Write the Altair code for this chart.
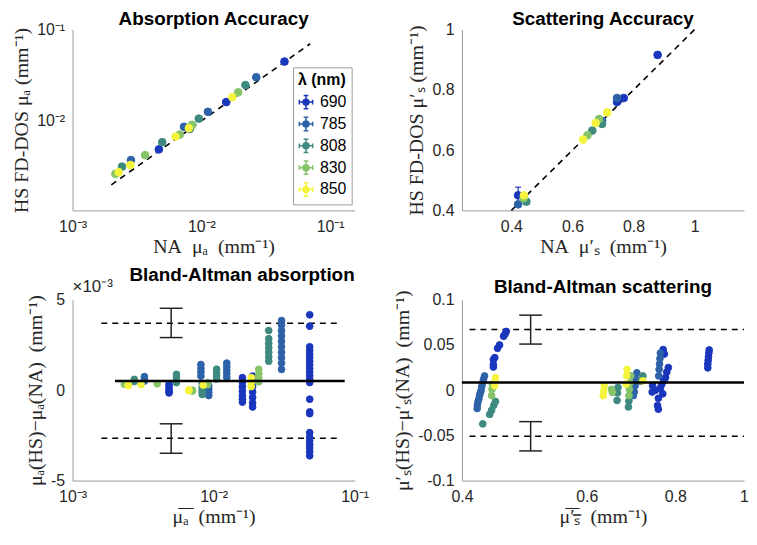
import altair as alt
import pandas as pd

# ---------------- data ----------------
NM = [690, 785, 808, 830, 850]
COLORS = ["#1a36bd", "#2d62a8", "#3f8a80", "#86c46a", "#f4f43e"]

# Absorption accuracy (mm^-1): NA reference vs HS FD-DOS
acc_nm = [690, 690, 690,
          785, 785, 785, 785,
          808, 808, 808, 808, 808,
          830, 830, 830, 830, 830,
          850, 850, 850, 850, 850]
acc_na = [0.0442, 0.0156, 0.00468,
          0.0267, 0.01125, 0.00733, 0.00284,
          0.0220, 0.00955, 0.00813, 0.00497, 0.00242,
          0.0193, 0.00848, 0.00678, 0.00366, 0.00215,
          0.0174, 0.0080, 0.00631, 0.00281, 0.00228]
acc_hs = [0.0447, 0.0161, 0.00489,
          0.0301, 0.0126, 0.00863, 0.00373,
          0.0247, 0.0106, 0.00819, 0.00586, 0.00316,
          0.0206, 0.00906, 0.00708, 0.00422, 0.00264,
          0.0182, 0.00834, 0.00674, 0.0033, 0.00275]
ident_abs = [0.002, 0.07]

# Scattering accuracy (mm^-1)
sca_nm = [690, 690, 690, 690, 785, 785, 785, 808, 808, 808,
          830, 830, 830, 850, 850, 850, 850]
sca_na = [0.879, 0.768, 0.746, 0.422, 0.746, 0.697, 0.422, 0.697, 0.665, 0.449,
          0.687, 0.649, 0.440, 0.714, 0.676, 0.635, 0.441]
sca_hs = [0.916, 0.773, 0.760, 0.450, 0.773, 0.697, 0.420, 0.687, 0.665, 0.429,
          0.703, 0.649, 0.440, 0.725, 0.690, 0.635, 0.450]
ident_sca = [0.4, 1.0]
err_sca_x = [0.422]
err_sca_lo = [0.423]
err_sca_hi = [0.477]

# Bland-Altman absorption: clusters of repeated measurements (diff in 1e-3 mm^-1)
baa_nm = [690, 690, 690, 690,
          785, 785, 785, 785, 785,
          808, 808, 808, 808, 808,
          830, 830, 830, 830, 830,
          850, 850, 850, 850, 850]
baa_mean = [0.00483, 0.0160, 0.0189, 0.048,
            0.00323, 0.00813, 0.00924, 0.0124, 0.0303,
            0.00274, 0.00545, 0.0083, 0.0105, 0.0246,
            0.00233, 0.00398, 0.00708, 0.00906, 0.0209,
            0.00248, 0.00306, 0.00667, 0.00843, 0.0185]
baa_diff = [
    [0.33, 0.20, 0.05, -0.08, -0.15],
    [0.69, 0.45, 0.20, -0.05, -0.30, -0.50, -0.66],
    [0.78, 0.50, 0.20, -0.10, -0.40, -0.70, -0.93],
    [4.17, 3.54, 2.40, 2.20, 2.00, 1.80, 1.60, 1.40, 1.20, 1.00, 0.80, 0.60, 0.42,
     -0.50, -1.20, -1.30, -2.35, -2.60, -2.80, -3.00, -3.20, -3.40, -3.63],
    [0.75, 0.60, 0.50],
    [1.42, 1.20, 1.00, 0.78],
    [0.24, 0.05, -0.12, -0.30],
    [1.50, 1.30, 1.10, 0.90, 0.70],
    [3.85, 3.60, 3.30, 3.00, 2.70, 2.40, 2.10, 1.80, 1.50, 1.15],
    [0.60, 0.48],
    [0.88, 0.70, 0.55, 0.42],
    [0.35, 0.15, 0.00, -0.12, -0.24],
    [1.16, 0.95, 0.80, 0.62],
    [3.30, 2.85, 2.60, 2.35, 2.10, 1.85, 1.60],
    [0.33],
    [0.35],
    [0.00, -0.05],
    [0.42, 0.30],
    [1.15, 0.90, 0.70, 0.46],
    [0.31, 0.25],
    [0.31],
    [-0.03, 0.02],
    [0.28],
    [0.70, 0.45, 0.20],
]
baa_bias = 0.51
baa_loa = [3.70, -2.66]
baa_ci_x = [0.005, 0.005]
baa_ci_lo = [2.91, -3.49]
baa_ci_hi = [4.53, -1.86]

# Bland-Altman scattering (mm^-1)
bas_nm = [690, 690, 690, 690, 690, 690, 690, 690, 690,
          690, 690, 690, 690, 690, 690, 690, 690, 690, 690, 690, 690, 690, 690, 690,
          690, 690, 690, 690, 690, 690,
          785, 785, 785, 785, 785, 785, 785, 785, 785, 785, 785,
          785, 785, 785, 785, 785,
          785, 785, 785, 785, 785,
          808, 808, 808, 808, 808, 808, 808, 808, 808, 808, 808, 808, 808,
          830, 830, 830, 830, 830, 830, 830, 830, 830,
          850, 850, 850, 850, 850, 850, 850, 850, 850, 850]
bas_mean = [0.462, 0.460, 0.458, 0.452, 0.449, 0.445, 0.443, 0.443, 0.443,
            0.769, 0.772, 0.782, 0.778, 0.775, 0.770, 0.765, 0.743, 0.742, 0.750, 0.757, 0.755, 0.757, 0.762, 0.768,
            0.893, 0.892, 0.891, 0.890, 0.889, 0.889,
            0.4305, 0.4290, 0.4276, 0.4265, 0.4256, 0.4245, 0.4235, 0.4225, 0.4213, 0.4205, 0.4203,
            0.706, 0.704, 0.702, 0.700, 0.698,
            0.762, 0.761, 0.760, 0.759, 0.758,
            0.446, 0.4435, 0.4405, 0.4377, 0.428, 0.664, 0.663, 0.662, 0.689, 0.688, 0.687, 0.720, 0.715,
            0.4415, 0.4410, 0.4405, 0.652, 0.650, 0.692, 0.690, 0.689, 0.688,
            0.446, 0.4455, 0.445, 0.635, 0.634, 0.633, 0.684, 0.683, 0.682, 0.720]
bas_diff = [0.065, 0.062, 0.0597, 0.050, 0.0463, 0.036, 0.0337, 0.0283, 0.0257,
            0.045, 0.040, 0.025, 0.020, 0.014, 0.010, 0.006, 0.005, -0.002, 0.000, -0.009, -0.017, -0.021, 0.002, -0.004,
            0.0445, 0.041, 0.037, 0.033, 0.029, 0.0247,
            0.0157, 0.012, 0.0078, 0.004, -0.0005, -0.003, -0.006, -0.010, -0.0132, -0.017, -0.0203,
            0.0192, 0.012, 0.005, -0.002, -0.006,
            0.041, 0.035, 0.029, 0.023, 0.0157,
            -0.0124, -0.0168, -0.0222, -0.0268, -0.0373, 0.003, -0.003, -0.0114, -0.006, -0.012, -0.0186, 0.0157, 0.010,
            0.0067, 0.001, -0.006, -0.0024, 0.001, 0.0157, 0.008, 0.001, -0.006,
            0.0138, 0.009, 0.0049, 0.0049, -0.001, -0.006, 0.023, 0.016, 0.0067, 0.0103]
bas_bias = 0.0084
bas_loa = [0.0672, -0.051]
bas_ci_x = [0.5, 0.5]
bas_ci_lo = [0.051, -0.0672]
bas_ci_hi = [0.083, -0.0348]

# ---------------- style ----------------
W, H = 284, 182
SANS = "Liberation Sans"
SERIF = "Liberation Serif"
LOG_LABELS = "datum.value < 0.005 ? '10⁻³' : datum.value < 0.05 ? '10⁻²' : '10⁻¹'"
PLAIN = "'' + datum.value"
SYM = ("M-1,-0.35L-1,0.35M-1,0L1,0M1,-0.35L1,0.35M-0.35,-1L0.35,-1M0,-1L0,1"
       "M-0.35,1L0.35,1M0.45,0A0.45,0.45,0,1,1,-0.45,0A0.45,0.45,0,1,1,0.45,0Z")
SP = "\u2002"  # wider spacing, like the LaTeX axis labels


def color_enc(show_legend):
    sc = alt.Scale(domain=NM, range=COLORS)
    if show_legend:
        lg = alt.Legend(title="λ (nm)", orient="none", legendX=222, legendY=38,
                        symbolType=SYM, symbolSize=180, symbolStrokeWidth=1.5,
                        labelFont=SANS, labelFontSize=16, labelColor="black",
                        titleFont=SANS, titleFontSize=16, titleFontWeight="bold",
                        titleColor="black", strokeColor="#9a9a9a", fillColor="white",
                        padding=5, rowPadding=2, labelOffset=6, titlePadding=6)
        return dict(fill=alt.Fill("nm:N", scale=sc, legend=lg),
                    stroke=alt.Stroke("nm:N", scale=sc, legend=lg))
    return dict(fill=alt.Fill("nm:N", scale=sc, legend=None),
                stroke=alt.Stroke("nm:N", scale=sc, legend=None))


def ax(title, values, expr, **kw):
    return alt.Axis(title=title, values=values, labelExpr=expr, labelFlush=False,
                    labelOverlap=False, labelBound=False, **kw)


XKW = dict(labelPadding=8, titlePadding=2)
YKW = dict(labelPadding=8, titlePadding=5)

# ---------------- panel 1 ----------------
sx1 = alt.Scale(type="log", domain=[0.001, 0.155])
sy1 = alt.Scale(type="log", domain=[0.00105, 0.1])
ax1 = ax(f"NA{SP}μₐ{SP}(mm⁻¹)", [0.001, 0.01, 0.1], LOG_LABELS, **XKW)
ay1 = ax("HS FD-DOS μₐ (mm⁻¹)", [0.01, 0.1], LOG_LABELS, **YKW)
df_acc = pd.DataFrame({"nm": acc_nm, "na": acc_na, "hs": acc_hs})
df_id1 = pd.DataFrame({"x": ident_abs, "y": ident_abs})
p1 = alt.layer(
    alt.Chart(df_id1).mark_line(color="black", strokeDash=[6, 5], strokeWidth=1.6).encode(
        x=alt.X("x:Q", scale=sx1, axis=ax1), y=alt.Y("y:Q", scale=sy1, axis=ay1)),
    alt.Chart(df_acc).mark_point(shape="circle", filled=True, size=60, opacity=1, strokeWidth=1).encode(
        x=alt.X("na:Q", scale=sx1, axis=ax1), y=alt.Y("hs:Q", scale=sy1, axis=ay1), **color_enc(True)),
).properties(width=W, height=H, title="Absorption Accuracy")

# ---------------- panel 2 ----------------
sx2 = alt.Scale(domain=[0.238, 1.162], nice=False, zero=False)
sy2 = alt.Scale(domain=[0.4, 1.0], nice=False, zero=False)
ax2 = ax(f"NA{SP}μ′ₛ{SP}(mm⁻¹)", [0.4, 0.6, 0.8, 1.0], PLAIN, **XKW)
ay2 = ax("HS FD-DOS μ′ₛ (mm⁻¹)", [0.4, 0.6, 0.8, 1.0], PLAIN, **YKW)
df_sca = pd.DataFrame({"nm": sca_nm, "na": sca_na, "hs": sca_hs})
df_id2 = pd.DataFrame({"x": ident_sca, "y": ident_sca})
df_err2 = pd.DataFrame({"x": err_sca_x, "lo": err_sca_lo, "hi": err_sca_hi})
p2 = alt.layer(
    alt.Chart(df_id2).mark_line(color="black", strokeDash=[6, 5], strokeWidth=1.6).encode(
        x=alt.X("x:Q", scale=sx2, axis=ax2), y=alt.Y("y:Q", scale=sy2, axis=ay2)),
    alt.Chart(df_err2).mark_rule(color=COLORS[0], strokeWidth=1.2).encode(
        x=alt.X("x:Q", scale=sx2, axis=ax2), y=alt.Y("lo:Q", scale=sy2, axis=ay2), y2="hi:Q"),
    alt.Chart(df_err2).mark_tick(color=COLORS[0], orient="horizontal", size=6, thickness=1.2, opacity=1).encode(
        x=alt.X("x:Q", scale=sx2, axis=ax2), y=alt.Y("hi:Q", scale=sy2, axis=ay2)),
    alt.Chart(df_sca).mark_point(shape="circle", filled=True, size=60, opacity=1, strokeWidth=1).encode(
        x=alt.X("na:Q", scale=sx2, axis=ax2), y=alt.Y("hs:Q", scale=sy2, axis=ay2), **color_enc(False)),
).properties(width=W, height=H, title="Scattering Accuracy")

# ---------------- panel 3 ----------------
rows = []
for nm, m, ds in zip(baa_nm, baa_mean, baa_diff):
    for d in ds:
        rows.append({"nm": nm, "mean": m, "diff": d})
df_baa = pd.DataFrame(rows)
sx3 = alt.Scale(type="log", domain=[0.001, 0.1])
sy3 = alt.Scale(domain=[-5, 5], nice=False)
ax3 = ax(f"μ̅ₐ̅{SP}(mm⁻¹)", [0.001, 0.01, 0.1], LOG_LABELS, **XKW)
ay3 = ax(f"μₐ(HS)−μₐ(NA){SP}(mm⁻¹)", [-5, 0, 5], PLAIN, **YKW)
df_bias3 = pd.DataFrame({"x1": [0.002], "x2": [0.085], "y": [baa_bias]})
df_loa3 = pd.DataFrame({"x1": [0.0016, 0.0016], "x2": [0.08, 0.08], "y": baa_loa})
df_ci3 = pd.DataFrame({"x": baa_ci_x, "lo": baa_ci_lo, "hi": baa_ci_hi})
df_ci3_caps = pd.DataFrame({"x": baa_ci_x + baa_ci_x, "y": baa_ci_lo + baa_ci_hi})
p3 = alt.layer(
    alt.Chart(df_loa3).mark_rule(color="black", strokeDash=[6, 5], strokeWidth=1.4).encode(
        x=alt.X("x1:Q", scale=sx3, axis=ax3), x2="x2:Q", y=alt.Y("y:Q", scale=sy3, axis=ay3)),
    alt.Chart(df_ci3).mark_rule(color="#222", strokeWidth=1.5).encode(
        x=alt.X("x:Q", scale=sx3, axis=ax3), y=alt.Y("lo:Q", scale=sy3, axis=ay3), y2="hi:Q"),
    alt.Chart(df_ci3_caps).mark_tick(color="#222", orient="horizontal", size=23, thickness=1.5, opacity=1).encode(
        x=alt.X("x:Q", scale=sx3, axis=ax3), y=alt.Y("y:Q", scale=sy3, axis=ay3)),
    alt.Chart(df_baa).mark_point(shape="circle", filled=True, size=46, opacity=1, strokeWidth=1).encode(
        x=alt.X("mean:Q", scale=sx3, axis=ax3), y=alt.Y("diff:Q", scale=sy3, axis=ay3), **color_enc(False)),
    alt.Chart(df_bias3).mark_rule(color="black", strokeWidth=2.6).encode(
        x=alt.X("x1:Q", scale=sx3, axis=ax3), x2="x2:Q", y=alt.Y("y:Q", scale=sy3, axis=ay3)),
    alt.Chart(pd.DataFrame({"t": ["×10⁻³"]})).mark_text(
        align="left", baseline="alphabetic", font=SANS, fontSize=17, color="#262626").encode(
        x=alt.value(0), y=alt.value(-8), text="t:N"),
).properties(width=W, height=H,
             title=alt.TitleParams("Bland-Altman absorption", anchor="end"))

# ---------------- panel 4 ----------------
df_bas = pd.DataFrame({"nm": bas_nm, "mean": bas_mean, "diff": bas_diff}).sort_values("nm", kind="stable")
sx4 = alt.Scale(type="log", domain=[0.4, 1.0])
sy4 = alt.Scale(domain=[-0.1, 0.1], nice=False)
ax4 = ax(f"μ̅′̅ₛ̅{SP}(mm⁻¹)", [0.4, 0.6, 0.8, 1.0], PLAIN, **XKW)
ay4 = ax(f"μ′ₛ(HS)−μ′ₛ(NA){SP}(mm⁻¹)", [-0.1, -0.05, 0, 0.05, 0.1], PLAIN, **YKW)
df_bias4 = pd.DataFrame({"x1": [0.4], "x2": [1.0], "y": [bas_bias]})
df_loa4 = pd.DataFrame({"x1": [0.41, 0.41], "x2": [1.0, 1.0], "y": bas_loa})
df_ci4 = pd.DataFrame({"x": bas_ci_x, "lo": bas_ci_lo, "hi": bas_ci_hi})
df_ci4_caps = pd.DataFrame({"x": bas_ci_x + bas_ci_x, "y": bas_ci_lo + bas_ci_hi})
p4 = alt.layer(
    alt.Chart(df_loa4).mark_rule(color="black", strokeDash=[6, 5], strokeWidth=1.4).encode(
        x=alt.X("x1:Q", scale=sx4, axis=ax4), x2="x2:Q", y=alt.Y("y:Q", scale=sy4, axis=ay4)),
    alt.Chart(df_ci4).mark_rule(color="#222", strokeWidth=1.5).encode(
        x=alt.X("x:Q", scale=sx4, axis=ax4), y=alt.Y("lo:Q", scale=sy4, axis=ay4), y2="hi:Q"),
    alt.Chart(df_ci4_caps).mark_tick(color="#222", orient="horizontal", size=23, thickness=1.5, opacity=1).encode(
        x=alt.X("x:Q", scale=sx4, axis=ax4), y=alt.Y("y:Q", scale=sy4, axis=ay4)),
    alt.Chart(df_bas).mark_point(shape="circle", filled=True, size=46, opacity=1, strokeWidth=1).encode(
        x=alt.X("mean:Q", scale=sx4, axis=ax4), y=alt.Y("diff:Q", scale=sy4, axis=ay4), **color_enc(False)),
    alt.Chart(df_bias4).mark_rule(color="black", strokeWidth=2.6).encode(
        x=alt.X("x1:Q", scale=sx4, axis=ax4), x2="x2:Q", y=alt.Y("y:Q", scale=sy4, axis=ay4)),
).properties(width=W, height=H, title="Bland-Altman scattering")

chart = alt.concat(p1, p2, p3, p4, columns=2, spacing={"row": 10, "column": 23}).resolve_scale(
    fill="independent", stroke="independent"
).properties(
    padding={"left": 3, "top": 0, "right": 0, "bottom": 0}, background="white"
).configure_axis(
    domainColor="#9a9a9a", domainWidth=1, grid=False, ticks=False,
    labelFont=SANS, labelFontSize=16, labelColor="#262626",
    titleFont=SERIF, titleFontSize=20, titleFontWeight="normal", titleColor="#262626",
).configure_title(
    font=SANS, fontSize=19, fontWeight="bold", color="black", offset=-7,
    frame="group", baseline="alphabetic"
).configure_view(stroke=None)

chart.save("out.html", embed_options={"renderer": "svg", "actions": False})
